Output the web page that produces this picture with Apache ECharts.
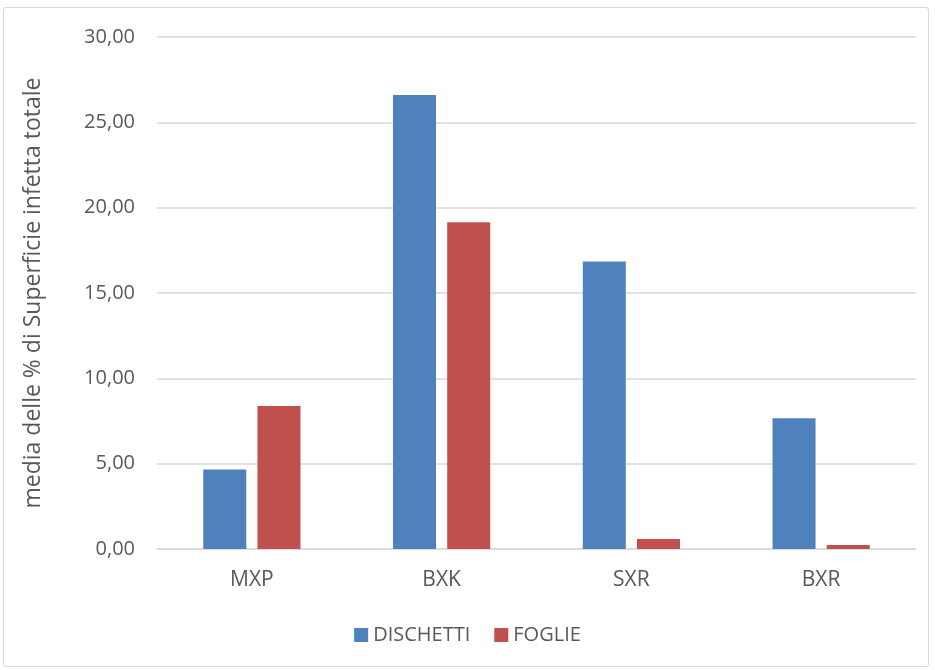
<!DOCTYPE html>
<html>
<head>
<meta charset="utf-8">
<script src="https://cdn.jsdelivr.net/npm/echarts@6/dist/echarts.min.js"></script>
<style>
  html, body { margin: 0; padding: 0; background: #ffffff; }
  #frame {
    position: absolute; left: 3px; top: 7px; width: 926px; height: 660px;
    border: 1.5px solid #d9d9d9; border-radius: 3px; box-sizing: border-box;
  }
  #chart { position: absolute; left: 0; top: 0; width: 935px; height: 670px; }
</style>
</head>
<body>
<div id="frame"></div>
<div id="chart"></div>
<script>
// Sampling sites and mean percentage of infected surface
const categories = ['MXP', 'BXK', 'SXR', 'BXR'];
const dischetti = [4.66, 26.60, 16.85, 7.66];
const foglie = [8.38, 19.15, 0.59, 0.23];
const seriesNames = ['DISCHETTI', 'FOGLIE'];

const FONT = '"Open Sans", "Liberation Sans", sans-serif';
const TEXT = '#595959';
const GRID = '#d9d9d9';

const chart = echarts.init(document.getElementById('chart'), null, { renderer: 'canvas' });

chart.setOption({
  backgroundColor: 'transparent',
  animation: false,
  textStyle: { fontFamily: FONT, color: TEXT },
  grid: { left: 157, right: 19, top: 37, bottom: 121, containLabel: false },
  legend: {
    data: seriesNames,
    bottom: 20,
    left: 'center',
    itemWidth: 14,
    itemHeight: 14,
    itemGap: 24,
    icon: 'rect',
    textStyle: { fontFamily: FONT, fontSize: 20, color: TEXT }
  },
  xAxis: {
    type: 'category',
    data: categories,
    axisLine: { lineStyle: { color: GRID, width: 1.5 } },
    axisTick: { show: false },
    axisLabel: { color: TEXT, fontSize: 21, fontFamily: FONT, margin: 21 }
  },
  yAxis: {
    type: 'value',
    min: 0,
    max: 30,
    interval: 5,
    name: 'media delle % di Superficie infetta totale',
    nameLocation: 'middle',
    nameGap: 112,
    nameTextStyle: { color: TEXT, fontSize: 23, fontFamily: FONT },
    axisLine: { show: false },
    axisTick: { show: false },
    splitLine: { lineStyle: { color: GRID, width: 1.5 } },
    axisLabel: {
      color: TEXT, fontSize: 20, fontFamily: FONT, margin: 22,
      formatter: v => v.toFixed(2).replace('.', ',')
    }
  },
  series: [
    {
      name: seriesNames[0],
      type: 'bar',
      data: dischetti,
      barWidth: 43,
      barGap: '26%',
      itemStyle: { color: '#4f81bd' }
    },
    {
      name: seriesNames[1],
      type: 'bar',
      data: foglie,
      barWidth: 43,
      barGap: '26%',
      itemStyle: { color: '#c0504d' }
    }
  ]
});
</script>
</body>
</html>
